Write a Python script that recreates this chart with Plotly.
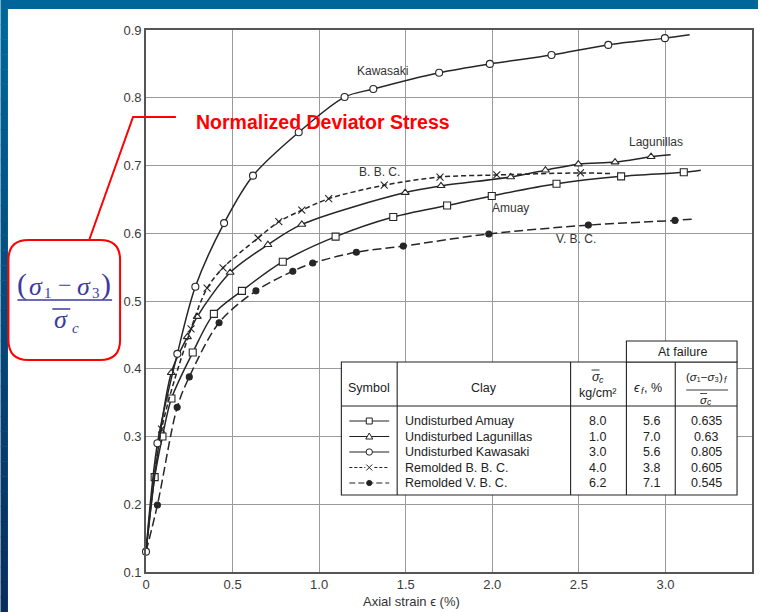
import plotly.graph_objects as go

# ---------------------------------------------------------------- data
x_ticks = [0, 0.5, 1.0, 1.5, 2.0, 2.5, 3.0, 3.5]
x_tick_text = ["0", "0.5", "1.0", "1.5", "2.0", "2.5", "3.0", "3.5"]
y_ticks = [0.1, 0.2, 0.3, 0.4, 0.5, 0.6, 0.7, 0.8, 0.9]
y_tick_text = ["0.1", "0.2", "0.3", "0.4", "0.5", "0.6", "0.7", "0.8", "0.9"]

# Undisturbed Amuay (squares)
amuay_x = [0, 0.05, 0.095, 0.147, 0.27, 0.392, 0.554, 0.79, 1.095, 1.428, 1.739, 1.997, 2.371, 2.744, 3.106, 3.204]
amuay_y = [0.13, 0.24, 0.30, 0.356, 0.424, 0.481, 0.515, 0.558, 0.595, 0.624, 0.641, 0.655, 0.673, 0.684, 0.690, 0.693]
amuay_mark = [0, 1, 1, 1, 1, 1, 1, 1, 1, 1, 1, 1, 1, 1, 1, 0]

# Undisturbed Lagunillas (triangles)
lagunillas_x = [0, 0.146, 0.239, 0.296, 0.486, 0.704, 0.9, 1.497, 1.704, 2.106, 2.307, 2.497, 2.709, 2.917, 3.03]
lagunillas_y = [0.13, 0.394, 0.447, 0.477, 0.542, 0.583, 0.613, 0.660, 0.670, 0.683, 0.693, 0.702, 0.705, 0.713, 0.716]
lagunillas_mark = [0, 1, 1, 1, 1, 1, 1, 1, 1, 1, 1, 1, 1, 1, 0]

# Undisturbed Kawasaki (circles)
kawasaki_x = [0, 0.066, 0.181, 0.285, 0.451, 0.618, 0.882, 1.147, 1.313, 1.693, 1.986, 2.342, 2.67, 2.997, 3.14]
kawasaki_y = [0.13, 0.29, 0.422, 0.521, 0.615, 0.685, 0.749, 0.801, 0.813, 0.837, 0.850, 0.863, 0.878, 0.888, 0.893]
kawasaki_mark = [1, 1, 1, 1, 1, 1, 1, 1, 1, 1, 1, 1, 1, 1, 0]

# Remolded B. B. C. (crosses)
bbc_x = [0, 0.09, 0.26, 0.353, 0.445, 0.647, 0.767, 0.9, 1.055, 1.376, 1.698, 2.026, 2.509, 2.69]
bbc_y = [0.13, 0.311, 0.459, 0.519, 0.549, 0.593, 0.617, 0.634, 0.651, 0.671, 0.683, 0.686, 0.689, 0.688]
bbc_mark = [0, 1, 1, 1, 1, 1, 1, 1, 1, 1, 1, 1, 1, 0]

# Remolded V. B. C. (dots)
vbc_x = [0, 0.066, 0.18, 0.25, 0.422, 0.635, 0.848, 0.963, 1.215, 1.486, 1.98, 2.555, 3.055, 3.17]
vbc_y = [0.13, 0.199, 0.343, 0.388, 0.468, 0.515, 0.544, 0.556, 0.572, 0.581, 0.599, 0.612, 0.619, 0.621]
vbc_mark = [0, 1, 1, 1, 1, 1, 1, 1, 1, 1, 1, 1, 1, 0]

# curve names written on the chart
curve_labels = ["Kawasaki", "Lagunillas", "B. B. C.", "Amuay", "V. B. C."]
curve_label_x = [1.365, 2.945, 1.35, 2.106, 2.486]
curve_label_y = [0.839, 0.735, 0.690, 0.637, 0.592]

# table of test conditions
clays = ["Undisturbed Amuay", "Undisturbed Lagunillas", "Undisturbed Kawasaki",
         "Remolded B. B. C.", "Remolded V. B. C."]
sigma_c = ["8.0", "1.0", "3.0", "4.0", "6.2"]
eps_f = ["5.6", "7.0", "5.6", "3.8", "7.1"]
ratio_f = ["0.635", "0.63", "0.805", "0.605", "0.545"]

# ---------------------------------------------------------------- geometry helpers
W, H = 760, 612
L, R, T, B = 146, 754, 30, 572


def fx(p):
    return (p - L) / (R - L)


def fy(p):
    return (B - p) / (B - T)


INK = "#262626"
fig = go.Figure()


def add_series(xs, ys, marks, symbol, size, dash, fill, name):
    fig.add_trace(go.Scatter(
        x=xs, y=ys, mode="lines", name=name, showlegend=False,
        line=dict(color=INK, width=1.5, dash=dash, shape="spline", smoothing=0.9),
        cliponaxis=False, hoverinfo="skip"))
    mx = [x for x, m in zip(xs, marks) if m]
    my = [y for y, m in zip(ys, marks) if m]
    fig.add_trace(go.Scatter(
        x=mx, y=my, mode="markers", name=name, showlegend=False,
        marker=dict(symbol=symbol, size=size, color=fill,
                    line=dict(color=INK, width=1.1)),
        cliponaxis=False))


add_series(amuay_x, amuay_y, amuay_mark, "square", 7, "solid", "white", "Amuay")
add_series(lagunillas_x, lagunillas_y, lagunillas_mark, "triangle-up", 7, "solid", "white", "Lagunillas")
add_series(bbc_x, bbc_y, bbc_mark, "x-thin-open", 7, "5px,3px", INK, "B. B. C.")
add_series(vbc_x, vbc_y, vbc_mark, "circle", 6, "9px,4px", INK, "V. B. C.")
add_series(kawasaki_x, kawasaki_y, kawasaki_mark, "circle", 7, "solid", "white", "Kawasaki")

annotations = []
for t, x, y in zip(curve_labels, curve_label_x, curve_label_y):
    annotations.append(dict(x=x, y=y, xref="x", yref="y", text=t, showarrow=False,
                            font=dict(family="Arial", size=12, color="#333")))

shapes = []

# slide background: blue header band and darkening left edge
shapes.append(dict(type="rect", xref="paper", yref="paper", x0=fx(0), x1=fx(W),
                   y0=fy(0), y1=fy(9), fillcolor="#00669a", line=dict(width=0), layer="below"))
N = 40
c0, c1 = (0, 102, 154), (8, 46, 92)
for i in range(N):
    t = i / (N - 1)
    col = "rgb(%d,%d,%d)" % tuple(round(a + (b - a) * t) for a, b in zip(c0, c1))
    y0 = 9 + (H - 9) * i / N
    y1 = 9 + (H - 9) * (i + 1) / N + 0.5
    shapes.append(dict(type="rect", xref="paper", yref="paper", x0=fx(0), x1=fx(7.5),
                       y0=fy(y0), y1=fy(min(y1, H)), fillcolor=col, line=dict(width=0),
                       layer="below"))

# ---------------------------------------------------------------- table
TBL = "#222"


def hline(x0, x1, y, w=1.1, dash="solid", color=TBL):
    shapes.append(dict(type="line", xref="paper", yref="paper", x0=fx(x0), x1=fx(x1),
                       y0=fy(y), y1=fy(y), line=dict(color=color, width=w, dash=dash)))


def vline(x, y0, y1, w=1.1):
    shapes.append(dict(type="line", xref="paper", yref="paper", x0=fx(x), x1=fx(x),
                       y0=fy(y0), y1=fy(y1), line=dict(color=TBL, width=w)))


def box(x0, y0, x1, y1, fill="white", w=1.1):
    shapes.append(dict(type="rect", xref="paper", yref="paper", x0=fx(x0), x1=fx(x1),
                       y0=fy(y0), y1=fy(y1), fillcolor=fill, line=dict(color=TBL, width=w)))


box(342, 362, 739, 495)
box(628, 341, 739, 362)
for xv in (398, 572, 628, 677):
    vline(xv, 362, 495)
hline(342, 739, 406)


def txt(x, y, s, size=12.5, anchor="center", family="Arial", color=TBL):
    annotations.append(dict(x=fx(x), y=fy(y), xref="paper", yref="paper", text=s,
                            showarrow=False, xanchor=anchor, yanchor="middle",
                            font=dict(family=family, size=size, color=color)))


txt(684, 352, "At failure")
txt(370, 388, "Symbol")
txt(485, 388, "Clay")
# sigma-bar sub c / kg/cm2
txt(597, 377, "<i>σ</i>", size=12.5)
txt(603, 380, "<i>c</i>", size=9)
hline(593, 601, 370, w=0.9)
txt(599, 393, "kg/cm²")
# eps_f, %
txt(639, 388, "<i>ϵ</i>", size=12.5)
txt(644.5, 391, "<i>f</i>", size=9)
txt(655, 388, ", %")
# (s1 - s3)_f / sigma-bar c
txt(706, 377, "(<i>σ</i>₁−<i>σ</i>₃)", size=11.5)
txt(728, 380, "<i>f</i>", size=8.5)
hline(688, 730, 390, w=0.9)
txt(706, 400, "<i>σ</i>", size=11.5)
txt(711, 402, "<i>c</i>", size=8.5)
hline(702, 709, 393.5, w=0.8)

row_y = [421, 436.5, 452, 467.5, 483]
for i, yy in enumerate(row_y):
    txt(404, yy, clays[i], anchor="left")
    txt(599, yy, sigma_c[i])
    txt(653, yy, eps_f[i])
    txt(708, yy, ratio_f[i])

# symbol column glyphs
gx = 370
for i, yy in enumerate(row_y):
    dash = "solid" if i < 3 else ("3px,2px" if i == 3 else "6px,3px")
    hline(350, 390, yy, w=1.1, dash=dash)
s = 3
box(gx - s, row_y[0] - s, gx + s, row_y[0] + s, w=1)
ty = row_y[1]
shapes.append(dict(type="path", xref="paper", yref="paper",
                   path="M %f,%f L %f,%f L %f,%f Z" % (fx(gx - 3.5), fy(ty + 2.5), fx(gx + 3.5), fy(ty + 2.5),
                                                        fx(gx), fy(ty - 3.5)),
                   fillcolor="white", line=dict(color=TBL, width=1)))
cy = row_y[2]
shapes.append(dict(type="circle", xref="paper", yref="paper", x0=fx(gx - 3.2), x1=fx(gx + 3.2),
                   y0=fy(cy - 3.2), y1=fy(cy + 3.2), fillcolor="white", line=dict(color=TBL, width=1)))
xy = row_y[3]
shapes.append(dict(type="rect", xref="paper", yref="paper", x0=fx(gx - 4), x1=fx(gx + 4),
                   y0=fy(xy - 4), y1=fy(xy + 4), fillcolor="white", line=dict(width=0)))
for d in (1, -1):
    shapes.append(dict(type="line", xref="paper", yref="paper", x0=fx(gx - 3), x1=fx(gx + 3),
                       y0=fy(xy - 3 * d), y1=fy(xy + 3 * d), line=dict(color=TBL, width=1)))
dy = row_y[4]
shapes.append(dict(type="circle", xref="paper", yref="paper", x0=fx(gx - 2.6), x1=fx(gx + 2.6),
                   y0=fy(dy - 2.6), y1=fy(dy + 2.6), fillcolor=TBL, line=dict(color=TBL, width=1)))

# ---------------------------------------------------------------- callout
RED = "#ff0000"


def rrect_path(x0, y0, x1, y1, r):
    return ("M %f,%f L %f,%f Q %f,%f %f,%f L %f,%f Q %f,%f %f,%f L %f,%f Q %f,%f %f,%f "
            "L %f,%f Q %f,%f %f,%f Z") % (
        fx(x0 + r), fy(y0), fx(x1 - r), fy(y0), fx(x1), fy(y0), fx(x1), fy(y0 + r),
        fx(x1), fy(y1 - r), fx(x1), fy(y1), fx(x1 - r), fy(y1),
        fx(x0 + r), fy(y1), fx(x0), fy(y1), fx(x0), fy(y1 - r),
        fx(x0), fy(y0 + r), fx(x0), fy(y0), fx(x0 + r), fy(y0))


shapes.append(dict(type="path", xref="paper", yref="paper", path=rrect_path(8, 240, 120, 360, 20),
                   fillcolor="white", line=dict(color=RED, width=2)))
shapes.append(dict(type="path", xref="paper", yref="paper",
                   path="M %f,%f L %f,%f L %f,%f" % (fx(89), fy(240), fx(133), fy(117), fx(176), fy(117)),
                   line=dict(color=RED, width=2)))
txt(194, 122, "<b>Normalized Deviator Stress</b>", size=19.5, anchor="left", color=RED)

MATH = "#3b3b9e"
SERIF = "Liberation Serif"
txt(22, 284, "(", size=30, family=SERIF, color=MATH)
txt(36, 286, "<i>σ</i>", size=26, family=SERIF, color=MATH)
txt(48, 293, "1", size=15, family=SERIF, color=MATH)
txt(65, 285, "−", size=24, family=SERIF, color=MATH)
txt(84, 286, "<i>σ</i>", size=26, family=SERIF, color=MATH)
txt(96, 293, "3", size=15, family=SERIF, color=MATH)
txt(106, 284, ")", size=30, family=SERIF, color=MATH)
hline(17, 112, 300, w=1.5, color=MATH)
txt(61, 319, "<i>σ</i>", size=26, family=SERIF, color=MATH)
txt(75, 328, "<i>c</i>", size=15, family=SERIF, color=MATH)
hline(52, 70, 309, w=1.5, color=MATH)

# axis title
txt(412, 601, "Axial strain ϵ (%)", size=13, color="#333")

for sh in shapes:
    sh.setdefault("layer", "above")

fig.update_layout(
    width=W, height=H,
    margin=dict(l=L, r=W - R, t=T, b=H - B),
    paper_bgcolor="white", plot_bgcolor="white",
    shapes=shapes, annotations=annotations,
    font=dict(family="Arial", color="#333"),
    xaxis=dict(range=[0, 3.5], tickvals=x_ticks, ticktext=x_tick_text,
               showgrid=True, gridcolor="#9a9a9a", gridwidth=1.2,
               showline=True, mirror=True, linecolor="#555", linewidth=1.6,
               zeroline=False, ticks="", tickfont=dict(size=13, color="#3a3a3a")),
    yaxis=dict(range=[0.1, 0.9], tickvals=y_ticks, ticktext=y_tick_text,
               showgrid=True, gridcolor="#9a9a9a", gridwidth=1.2,
               showline=True, mirror=True, linecolor="#555", linewidth=1.6,
               zeroline=False, ticks="", tickfont=dict(size=13, color="#3a3a3a")),
)

fig.write_html("out.html")
